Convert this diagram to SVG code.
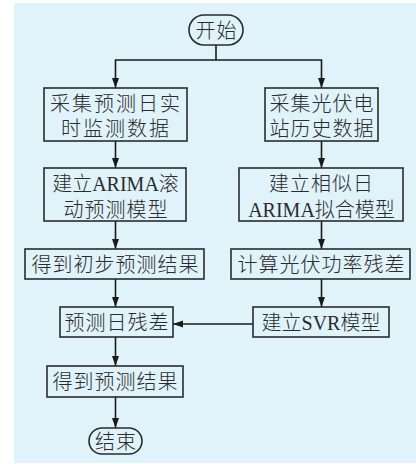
<svg xmlns="http://www.w3.org/2000/svg" width="416" height="464" viewBox="0 0 416 464">
<defs>
<style>
.bg{fill:#e0f2fa}
.n{fill:#e0f2fa;stroke:#2b2b2b;stroke-width:1.6}
.t{font-family:"Liberation Serif","Noto Sans CJK SC",serif;font-size:20px;font-weight:300;fill:#2b2b2b;text-anchor:middle;letter-spacing:1px}
.c{fill:none;stroke:#1a1a1a;stroke-width:1.6}
</style>
<marker id="ah" markerUnits="userSpaceOnUse" markerWidth="11" markerHeight="8" refX="10" refY="3.5" orient="auto">
<path d="M0,0 L10,3.5 L0,7 Z" fill="#1a1a1a"/>
</marker>
</defs>
<rect class="bg" x="14" y="3" width="402" height="460"/>
<g id="connectors">
<path class="c" d="M216,45 V60"/>
<path class="c" d="M216,60 H115.5 V88" marker-end="url(#ah)"/>
<path class="c" d="M216,60 H321.5 V88" marker-end="url(#ah)"/>
<path class="c" d="M115.5,141 V168" marker-end="url(#ah)"/>
<path class="c" d="M321.5,141 V168" marker-end="url(#ah)"/>
<path class="c" d="M115.5,221 V249" marker-end="url(#ah)"/>
<path class="c" d="M321.5,221 V249" marker-end="url(#ah)"/>
<path class="c" d="M115.5,279 V307" marker-end="url(#ah)"/>
<path class="c" d="M321.5,279 V307" marker-end="url(#ah)"/>
<path class="c" d="M253,324 H173" marker-end="url(#ah)"/>
<path class="c" d="M115.5,337 V366" marker-end="url(#ah)"/>
<path class="c" d="M115.5,397 V428" marker-end="url(#ah)"/>
</g>
<g id="start">
<rect class="n" x="189" y="15" width="54" height="30" rx="15"/>
<text class="t" x="216.5" y="37.5">开始</text>
</g>
<g id="b1">
<rect class="n" x="44" y="88" width="143" height="53"/>
<text class="t" x="116" y="110.5" style="letter-spacing:2px">采集预测日实</text>
<text class="t" x="116" y="135.5" style="letter-spacing:2px">时监测数据</text>
</g>
<g id="b2">
<rect class="n" x="265" y="88" width="113" height="53"/>
<text class="t" x="322" y="110.5" style="letter-spacing:1px">采集光伏电</text>
<text class="t" x="322" y="135.5" style="letter-spacing:1px">站历史数据</text>
</g>
<g id="b3">
<rect class="n" x="44" y="168" width="142" height="53"/>
<text class="t" x="115.5" y="190.5" style="letter-spacing:0px">建立ARIMA滚</text>
<text class="t" x="116" y="216.5" style="letter-spacing:1px">动预测模型</text>
</g>
<g id="b4">
<rect class="n" x="239" y="168" width="164" height="53"/>
<text class="t" x="321.5" y="190.5" style="letter-spacing:1px">建立相似日</text>
<text class="t" x="321.5" y="216.5" style="letter-spacing:0px">ARIMA拟合模型</text>
</g>
<g id="b5">
<rect class="n" x="25" y="249" width="179" height="30"/>
<text class="t" x="115.5" y="271.5">得到初步预测结果</text>
</g>
<g id="b6">
<rect class="n" x="231" y="249" width="179" height="30"/>
<text class="t" x="321.5" y="271.5">计算光伏功率残差</text>
</g>
<g id="b7">
<rect class="n" x="60" y="307" width="113" height="30"/>
<text class="t" x="117" y="329.5">预测日残差</text>
</g>
<g id="b8">
<rect class="n" x="253" y="307" width="136" height="30"/>
<text class="t" x="321" y="329.5" style="letter-spacing:0px">建立SVR模型</text>
</g>
<g id="b9">
<rect class="n" x="47" y="366" width="136" height="31"/>
<text class="t" x="115.5" y="389">得到预测结果</text>
</g>
<g id="end">
<rect class="n" x="89" y="428" width="53" height="26" rx="13"/>
<text class="t" x="116" y="448.5">结束</text>
</g>
</svg>
